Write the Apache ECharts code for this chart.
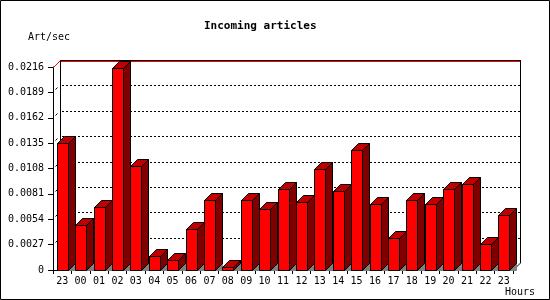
<!DOCTYPE html>
<html>
<head>
<meta charset="utf-8">
<script src="https://cdn.jsdelivr.net/npm/echarts@6/dist/echarts.min.js"></script>
<style>
html,body{margin:0;padding:0;background:#fff;}
#chart{width:550px;height:300px;}
</style>
</head>
<body>
<div id="chart"></div>
<script>
var hours = ['23','00','01','02','03','04','05','06','07','08','09','10','11','12','13','14','15','16','17','18','19','20','21','22','23'];
var articles = [0.0135, 0.0048, 0.0067, 0.0215, 0.0111, 0.0015, 0.0011, 0.0044, 0.0075, 0.0003, 0.0075, 0.0065, 0.0086, 0.0072, 0.0108, 0.0084, 0.0128, 0.0070, 0.0034, 0.0075, 0.0070, 0.0086, 0.0092, 0.0028, 0.0058];
var yTicks = [0, 0.0027, 0.0054, 0.0081, 0.0108, 0.0135, 0.0162, 0.0189, 0.0216];
var titleText = 'Incoming articles';
var yUnit = 'Art/sec';
var xUnit = 'Hours';

var FONT = 'DejaVu Sans Mono';
var D = 7;          // 3D depth in px
var FRONT_W = 11;   // bar front face width px
var yMax = yTicks[yTicks.length - 1];

var chart = echarts.init(document.getElementById('chart'), null, {renderer: 'canvas'});

function renderFrame(params, api) {
  var cs = params.coordSys;
  var x0 = Math.round(cs.x), x1 = Math.round(cs.x + cs.width);
  var y0 = Math.round(cs.y), y1 = Math.round(cs.y + cs.height);
  var ch = [];
  for (var i = 0; i < yTicks.length; i++) {
    var t = yTicks[i];
    var y = Math.round(api.coord([0, t])[1]);
    if (t > 0 && t < yMax) {
      ch.push({type: 'line', shape: {x1: x0 + D + 2, y1: y - D + 0.5, x2: x1 + D, y2: y - D + 0.5},
        style: {stroke: '#000', lineWidth: 1, lineDash: [2, 2]}});
      ch.push({type: 'line', shape: {x1: x0 + 2.5, y1: y - 2.5, x2: x0 + 4.5, y2: y - 4.5},
        style: {stroke: '#000', lineWidth: 1}});
    }
  }
  ch.push({type: 'line', shape: {x1: x0 + D + 0.5, y1: y0 - D, x2: x0 + D + 0.5, y2: y1 - D}, style: {stroke: '#000', lineWidth: 1}});
  ch.push({type: 'line', shape: {x1: x1 + D + 0.5, y1: y0 - D, x2: x1 + D + 0.5, y2: y1 - D}, style: {stroke: '#000', lineWidth: 1}});
  ch.push({type: 'line', shape: {x1: x1 + D + 0.5, y1: y1 - D, x2: x1 + 0.5, y2: y1}, style: {stroke: '#000', lineWidth: 1}});
  ch.push({type: 'line', shape: {x1: x0 + D, y1: y0 - D + 0.5, x2: x1 + D + 1, y2: y0 - D + 0.5}, style: {stroke: '#000', lineWidth: 1}});
  ch.push({type: 'line', shape: {x1: x0 + D + 1, y1: y0 - D + 1.5, x2: x1 + D, y2: y0 - D + 1.5}, style: {stroke: '#ff0000', lineWidth: 1}});
  ch.push({type: 'line', shape: {x1: x0 + 0.5, y1: y0 + 0.5, x2: x0 + D + 0.5, y2: y0 - D + 0.5}, style: {stroke: '#ff0000', lineWidth: 1}});
  return {type: 'group', children: ch};
}

function renderBar(params, api) {
  var idx = api.value(0), v = api.value(1);
  var base = api.coord([idx, 0]);
  var top = api.coord([idx, v]);
  var xl = Math.round(base[0] - FRONT_W / 2) + 0.5;
  var xr = xl + FRONT_W;
  var yb = Math.round(base[1]) + 0.5;
  var yt = Math.round(top[1]) + 0.5;
  var st = {stroke: '#000', lineWidth: 1};
  return {type: 'group', children: [
    {type: 'polygon', shape: {points: [[xr, yb], [xr + D, yb - D], [xr + D, yb]]}, style: {fill: '#808080', stroke: '#808080', lineWidth: 1}},
    {type: 'polygon', shape: {points: [[xr, yt], [xr + D, yt - D], [xr + D, yb - D], [xr, yb]]}, style: Object.assign({fill: '#800000'}, st)},
    {type: 'polygon', shape: {points: [[xl, yt], [xl + D, yt - D], [xr + D, yt - D], [xr, yt]]}, style: Object.assign({fill: '#c00000'}, st)},
    {type: 'polygon', shape: {points: [[xl, yt], [xr, yt], [xr, yb], [xl, yb]]}, style: Object.assign({fill: '#ff0000'}, st)}
  ]};
}

var barData = articles.map(function (v, i) { return [i, v]; });

chart.setOption({
  backgroundColor: '#fff',
  animation: false,
  title: [
    {text: titleText, left: 204, top: 21, padding: 0,
     textStyle: {fontFamily: FONT, fontSize: 11, fontWeight: 'bold', color: '#000'}},
    {text: yUnit, left: 28, top: 32, padding: 0,
     textStyle: {fontFamily: FONT, fontSize: 10, fontWeight: 'normal', color: '#000'}},
    {text: xUnit, left: 505, top: 287, padding: 0,
     textStyle: {fontFamily: FONT, fontSize: 10, fontWeight: 'normal', color: '#000'}}
  ],
  graphic: [
    {type: 'rect', shape: {x: 0.5, y: 0.5, width: 549, height: 299}, style: {fill: 'none', stroke: '#000', lineWidth: 1}, z: 100}
  ],
  grid: {left: 53, top: 67, width: 460, height: 203, containLabel: false},
  xAxis: {
    type: 'category',
    data: hours,
    boundaryGap: true,
    axisLine: {show: true, lineStyle: {color: '#000', width: 1}},
    axisTick: {show: true, length: 4, lineStyle: {color: '#000'}},
    axisLabel: {interval: 0, margin: 6, color: '#000', fontFamily: FONT, fontSize: 10},
    splitLine: {show: false}
  },
  yAxis: {
    type: 'value',
    min: 0, max: yMax, interval: yTicks[1],
    axisLine: {show: true, lineStyle: {color: '#000', width: 1}},
    axisTick: {show: true, length: 5, lineStyle: {color: '#000'}},
    axisLabel: {margin: 9, color: '#000', fontFamily: FONT, fontSize: 10,
      formatter: function (v) { return v === 0 ? '0' : v.toFixed(4); }},
    splitLine: {show: false}
  },
  series: [
    {type: 'custom', name: 'frame', renderItem: renderFrame, data: [[0, 0]], z: 1, silent: true},
    {type: 'custom', name: 'Incoming articles', renderItem: renderBar, data: barData, z: 3,
     encode: {x: 0, y: 1}}
  ]
});
</script>
</body>
</html>
